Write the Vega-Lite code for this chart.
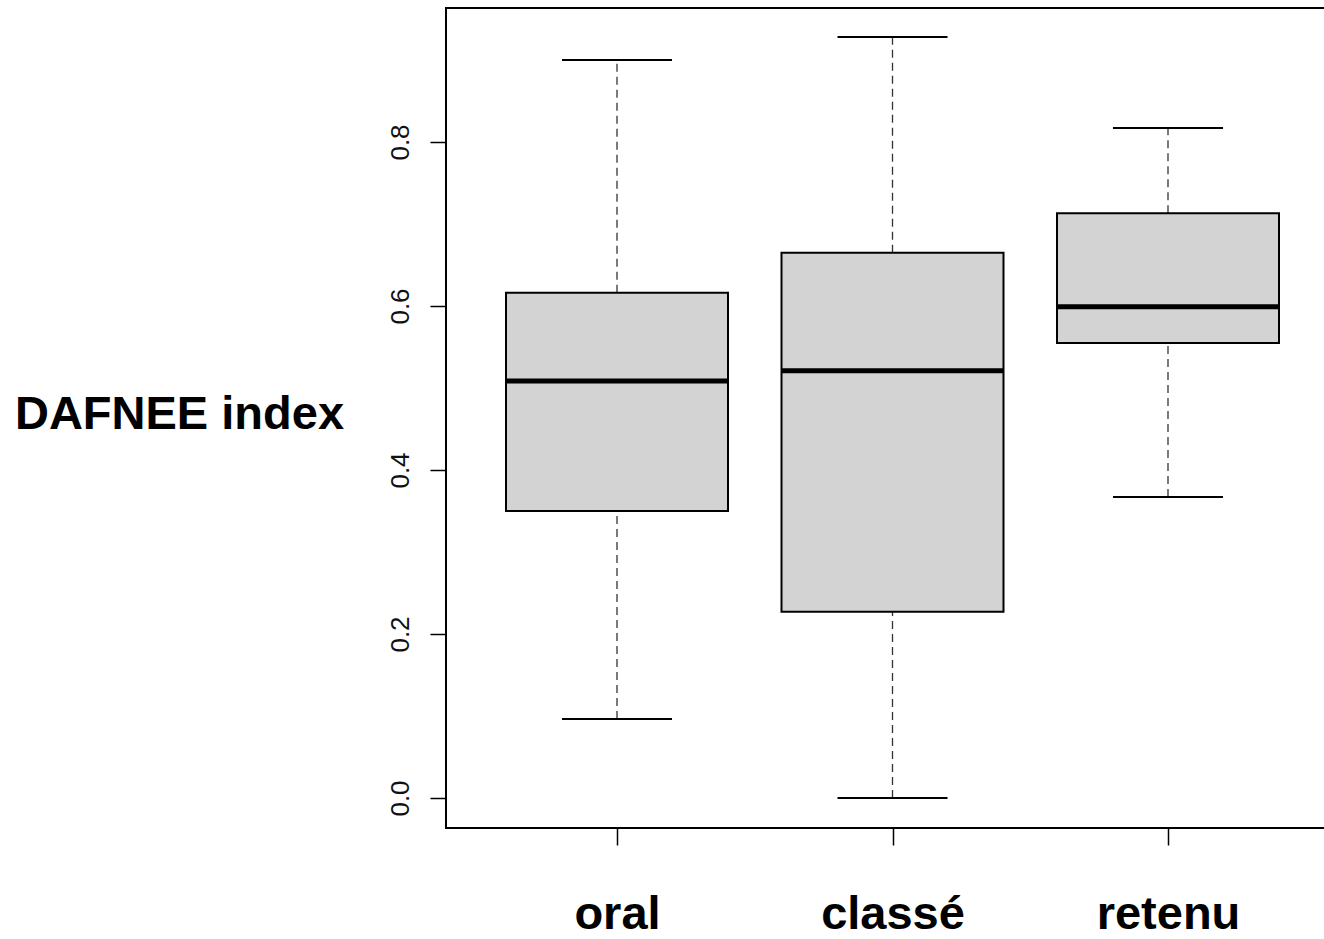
{
  "$schema": "https://vega.github.io/schema/vega-lite/v6.json",
  "autosize": "none",
  "padding": {"left": 446, "top": 8, "right": -15, "bottom": 111},
  "width": 893,
  "height": 820,
  "background": "white",
  "config": {
    "font": "Liberation Sans",
    "view": {"stroke": "black", "strokeWidth": 2}
  },
  "data": {
    "values": [
      {"groupe": "oral", "lower": 0.0963, "q1": 0.350, "median": 0.5085, "q3": 0.616, "upper": 0.900},
      {"groupe": "classé", "lower": 0.0, "q1": 0.227, "median": 0.521, "q3": 0.665, "upper": 0.928},
      {"groupe": "retenu", "lower": 0.367, "q1": 0.555, "median": 0.599, "q3": 0.713, "upper": 0.817}
    ]
  },
  "encoding": {
    "x": {
      "field": "groupe",
      "type": "nominal",
      "sort": ["oral", "classé", "retenu"],
      "scale": {"type": "point", "padding": 0.6207},
      "axis": {
        "title": null,
        "domain": false,
        "tickColor": "black",
        "tickSize": 17,
        "tickWidth": 1.5,
        "labelAngle": 0,
        "labelFont": "Liberation Sans",
        "labelFontSize": 47,
        "labelFontWeight": "bold",
        "labelColor": "black",
        "labelBaseline": "alphabetic",
        "labelPadding": 83
      }
    }
  },
  "layer": [
    {
      "mark": {"type": "rule", "color": "#333", "strokeWidth": 1.3, "strokeDash": [8, 5]},
      "encoding": {
        "y": {
          "field": "lower",
          "type": "quantitative",
          "scale": {"domain": [-0.0366, 0.9634], "nice": false, "zero": false},
          "axis": {
            "title": "DAFNEE index",
            "titleAngle": 0,
            "titleFont": "Liberation Sans",
            "titleFontSize": 47,
            "titleFontWeight": "bold",
            "titleColor": "black",
            "titleAlign": "center",
            "titleBaseline": "alphabetic",
            "titleX": -267,
            "titleY": 420,
            "values": [0, 0.2, 0.4, 0.6, 0.8],
            "format": ".1f",
            "grid": false,
            "domain": false,
            "tickColor": "black",
            "tickSize": 16,
            "tickWidth": 1.5,
            "labelAngle": -90,
            "labelAlign": "center",
            "labelBaseline": "middle",
            "labelFontSize": 26,
            "labelColor": "#111",
            "labelPadding": 30
          }
        },
        "y2": {"field": "q1"}
      }
    },
    {
      "mark": {"type": "rule", "color": "#333", "strokeWidth": 1.3, "strokeDash": [8, 5]},
      "encoding": {
        "y": {"field": "q3", "type": "quantitative"},
        "y2": {"field": "upper"}
      }
    },
    {
      "mark": {"type": "bar", "size": 222, "fill": "#d3d3d3", "stroke": "black", "strokeWidth": 2},
      "encoding": {
        "y": {"field": "q1", "type": "quantitative"},
        "y2": {"field": "q3"}
      }
    },
    {
      "mark": {"type": "tick", "size": 222, "thickness": 5, "color": "black", "opacity": 1},
      "encoding": {"y": {"field": "median", "type": "quantitative"}}
    },
    {
      "mark": {"type": "tick", "size": 110, "thickness": 2, "color": "black", "opacity": 1},
      "encoding": {"y": {"field": "lower", "type": "quantitative"}}
    },
    {
      "mark": {"type": "tick", "size": 110, "thickness": 2, "color": "black", "opacity": 1},
      "encoding": {"y": {"field": "upper", "type": "quantitative"}}
    }
  ]
}
